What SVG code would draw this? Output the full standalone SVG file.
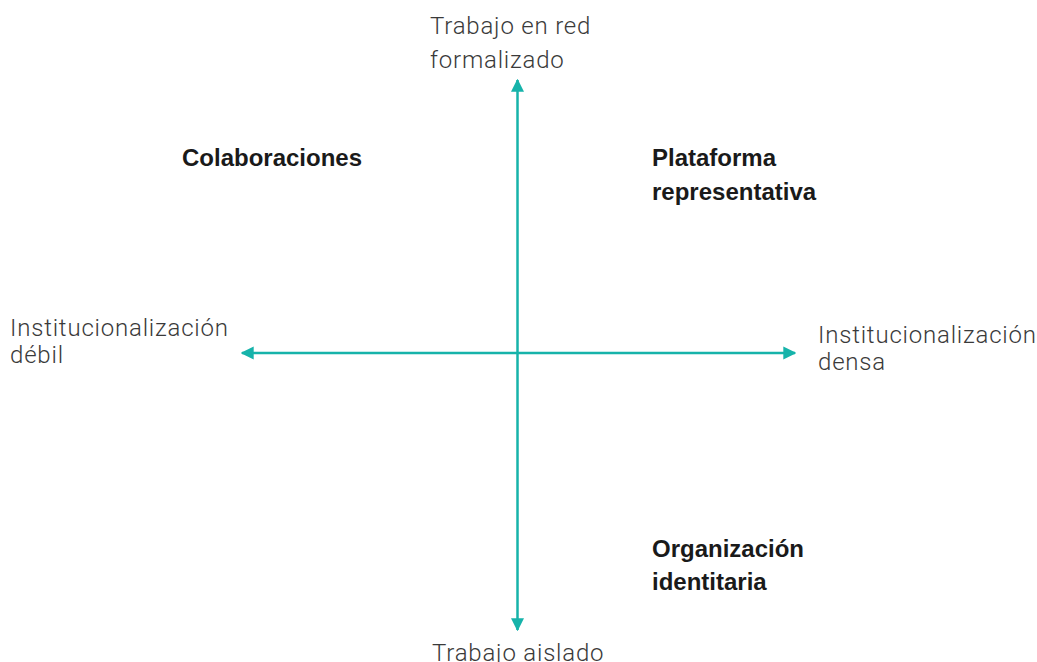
<svg xmlns="http://www.w3.org/2000/svg" width="1037" height="662" viewBox="0 0 1037 662">
<style>
.lbl{font-family:Roboto,"Liberation Sans",sans-serif;font-weight:300;font-size:24px;letter-spacing:0.8px;fill:#3a3a3a}
.q{font-family:"Liberation Sans",Arial,sans-serif;font-weight:bold;font-size:24px;fill:#1a1a1a}
.ax{stroke:#16b3aa;stroke-width:2.5;fill:none}
</style>
<defs>
<marker id="ah" viewBox="0 0 10 10" refX="9" refY="5" markerWidth="13" markerHeight="17" markerUnits="userSpaceOnUse" orient="auto">
<path d="M0,0 L10,5 L0,10 Z" fill="#16b3aa"/>
</marker>
</defs>
<g id="connectors">
<line class="ax" x1="517.5" y1="353" x2="517.5" y2="80" marker-end="url(#ah)"/>
<line class="ax" x1="517.5" y1="353" x2="517.5" y2="630" marker-end="url(#ah)"/>
<line class="ax" x1="517.5" y1="353" x2="242" y2="353" marker-end="url(#ah)"/>
<line class="ax" x1="517.5" y1="353" x2="795" y2="353" marker-end="url(#ah)"/>
</g>
<g id="top-label"><text class="lbl" x="430" y="34">Trabajo en red</text><text class="lbl" x="430" y="68">formalizado</text></g>
<g id="bottom-label"><text class="lbl" x="432" y="661">Trabajo aislado</text></g>
<g id="left-label"><text class="lbl" x="10" y="336">Institucionalización</text><text class="lbl" x="10" y="363">débil</text></g>
<g id="right-label"><text class="lbl" x="818" y="343">Institucionalización</text><text class="lbl" x="818" y="370">densa</text></g>
<g id="colaboraciones"><text class="q" x="182" y="166">Colaboraciones</text></g>
<g id="plataforma"><text class="q" x="652" y="166">Plataforma</text><text class="q" x="652" y="200">representativa</text></g>
<g id="organizacion"><text class="q" x="652" y="557">Organización</text><text class="q" x="652" y="590">identitaria</text></g>
</svg>
